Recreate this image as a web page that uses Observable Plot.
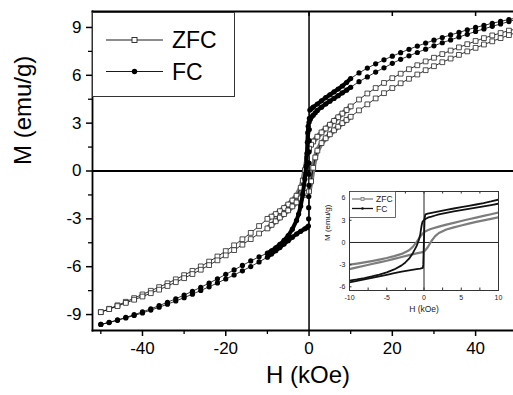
<!DOCTYPE html>
<html><head><meta charset="utf-8">
<script src="https://cdn.jsdelivr.net/npm/d3@7"></script>
<script src="https://cdn.jsdelivr.net/npm/@observablehq/plot@0.6"></script>
<style>
html,body{margin:0;padding:0;background:#fff;overflow:hidden;}
#wrap{position:relative;width:513px;height:395px;overflow:hidden;font-family:"Liberation Sans",Arial,sans-serif;background:#fff;}
#wrap svg{position:absolute;overflow:hidden;}
</style></head><body><div id="wrap"></div>
<script>
// ---------------- data ----------------
// ZFC, field swept from +50 to -50 kOe
const zfcDownH = [50,48,46,44,42,40,38,36,34,32,30,28,26,24,22,20,18,16,14,12,
  10,9,8,7,6,5,4,3,2,1,0.5,0,-0.5,-1,-1.5,-2,-3,-4,-5,-6,-7,-8,-9,-10,
  -12,-14,-16,-18,-20,-22,-24,-26,-28,-30,-32,-34,-36,-38,-40,-42,-44,-46,-48,-50];
const zfcDownM = [8.92,8.8,8.65,8.5,8.33,8.15,7.95,7.75,7.55,7.33,7.1,6.87,6.63,6.38,6.1,5.82,5.52,5.2,4.86,4.48,
  4.05,3.82,3.6,3.37,3.14,2.9,2.66,2.42,2.15,1.85,1.65,1.4,0.8,0.05,-0.6,-1.05,-1.55,-1.85,-2.1,-2.32,-2.52,-2.7,-2.86,-3.0,
  -3.45,-3.88,-4.28,-4.66,-5.02,-5.36,-5.68,-5.98,-6.26,-6.53,-6.79,-7.04,-7.28,-7.51,-7.74,-7.97,-8.2,-8.42,-8.64,-8.85];
// ZFC, field swept from -50 to +50 kOe
const zfcUpH = [-50,-48,-46,-44,-42,-40,-38,-36,-34,-32,-30,-28,-26,-24,-22,-20,-18,-16,-14,-12,
  -10,-9,-8,-7,-6,-5,-4,-3,-2,-1,-0.5,0,0.5,1,1.5,2,3,4,5,6,7,8,9,10,
  12,14,16,18,20,22,24,26,28,30,32,34,36,38,40,42,44,46,48,50];
const zfcUpM = [-8.85,-8.66,-8.47,-8.27,-8.07,-7.87,-7.66,-7.44,-7.21,-6.97,-6.72,-6.46,-6.19,-5.9,-5.6,-5.29,-4.96,-4.62,-4.27,-3.92,
  -3.6,-3.38,-3.15,-2.92,-2.7,-2.47,-2.22,-1.97,-1.72,-1.48,-1.38,-1.28,-0.65,0.2,0.85,1.28,1.75,2.05,2.3,2.55,2.78,3.0,3.2,3.4,
  3.8,4.18,4.55,4.88,5.2,5.5,5.78,6.05,6.32,6.57,6.82,7.05,7.28,7.5,7.72,7.93,8.13,8.33,8.52,8.7];
// FC, field swept from +50 to -50 kOe
const fcDownH = [50,48,46,44,42,40,38,36,34,32,30,28,26,24,22,20,18,16,14,12,
  10,9,8,7,6,5,4,3,2,1,0.5,0.2,0.08,0.06,0.04,0.02,0,-0.02,-0.04,-0.06,-0.08,-0.1,-0.15,-0.5,
  -1,-2,-3,-4,-5,-6,-7,-8,-9,-10,
  -12,-14,-16,-18,-20,-22,-24,-26,-28,-30,-32,-34,-36,-38,-40,-42,-44,-46,-48,-50];
const fcDownM = [9.6,9.5,9.38,9.26,9.13,9.0,8.85,8.69,8.53,8.37,8.2,8.02,7.83,7.63,7.42,7.2,6.97,6.72,6.45,6.15,
  5.8,5.55,5.33,5.14,4.96,4.78,4.6,4.4,4.2,4.0,3.9,3.82,3.3,2.6,1.9,1.2,0.5,-0.2,-0.9,-1.6,-2.3,-3.0,-3.45,-3.55,
  -3.62,-3.78,-3.95,-4.15,-4.37,-4.58,-4.8,-5.0,-5.2,-5.4,
  -5.7,-5.99,-6.26,-6.52,-6.77,-7.02,-7.26,-7.49,-7.72,-7.94,-8.15,-8.35,-8.54,-8.72,-8.9,-9.06,-9.21,-9.36,-9.5,-9.62];
// FC, field swept from -50 to +50 kOe
const fcUpH = [-50,-48,-46,-44,-42,-40,-38,-36,-34,-32,-30,-28,-26,-24,-22,-20,-18,-16,-14,-12,
  -10,-9,-8,-7,-6,-5,-4,-3,-2.5,-2,-1.5,-1,-0.7,-0.5,-0.4,-0.3,-0.2,0,0.3,0.6,1,1.5,
  2,3,4,5,6,7,8,9,10,
  12,14,16,18,20,22,24,26,28,30,32,34,36,38,40,42,44,46,48,50];
const fcUpM = [-9.62,-9.49,-9.34,-9.18,-9.01,-8.83,-8.64,-8.44,-8.23,-8.01,-7.78,-7.54,-7.29,-7.03,-6.76,-6.48,-6.2,-5.92,-5.64,-5.38,
  -5.15,-5.0,-4.82,-4.6,-4.35,-4.05,-3.65,-3.1,-2.7,-2.2,-1.45,-0.5,0.3,1.1,1.8,2.4,2.8,3.05,3.25,3.4,3.5,3.65,
  3.8,4.0,4.2,4.38,4.55,4.72,4.9,5.07,5.25,
  5.6,5.9,6.2,6.47,6.75,7.0,7.22,7.43,7.64,7.85,8.04,8.22,8.4,8.57,8.75,8.91,9.07,9.22,9.37,9.52];

const seriesNames = ["ZFC", "FC"];
const mainXTicks = [-40, -20, 0, 20, 40];
const mainXMinor = [-50, -30, -10, 10, 30, 50];
const mainYTicks = [-9, -6, -3, 0, 3, 6, 9];
const mainYMinor = [-7.5, -4.5, -1.5, 1.5, 4.5, 7.5];
const insetXTicks = [-10, -5, 0, 5, 10];
const insetXMinor = [-7.5, -2.5, 2.5, 7.5];
const insetYTicks = [-6, -3, 0, 3, 6];
const xTitle = "H (kOe)";
const yTitle = "M (emu/g)";

// ---------------- build tables ----------------
const toRows = (H, M, branch) => H.map((h, i) => ({H: h, M: M[i], branch}));
const zfcDown = toRows(zfcDownH, zfcDownM, "ZFC down");
const zfcUp = toRows(zfcUpH, zfcUpM, "ZFC up");
const fcDown = toRows(fcDownH, fcDownM, "FC down");
const fcUp = toRows(fcUpH, fcUpM, "FC up");
const zfcAll = zfcDown.concat(zfcUp);
const fcAll = fcDown.concat(fcUp);
const dense = rows => rows.filter(d => Math.abs(d.H) <= 10);
// the jump of the FC down-sweep at H = 0 is drawn as separate dots, not as a band
const bandY = d => (d.branch === "FC down" && Math.abs(d.H) < 0.15) ? NaN : d.M;

const FONT = '"Liberation Sans", Arial, Helvetica, sans-serif';
const fmt = d => String(d);
const wrap = document.getElementById("wrap");

// ---------------- main chart ----------------
const main = Plot.plot({
  width: 513, height: 395,
  marginLeft: 92, marginRight: 0, marginTop: 11, marginBottom: 65,
  x: {domain: [-52, 49.1]},
  y: {domain: [-10, 10]},
  style: {fontFamily: FONT, background: "transparent", color: "#000", overflow: "hidden"},
  marks: [
    Plot.ruleY([0], {stroke: "#000", strokeWidth: 1.8}),
    Plot.ruleX([0], {stroke: "#000", strokeWidth: 1.5}),
    // ZFC
    Plot.line(dense(zfcDown), {x: "H", y: "M", stroke: "#7a7a7a", strokeWidth: 5, clip: true}),
    Plot.line(dense(zfcUp), {x: "H", y: "M", stroke: "#7a7a7a", strokeWidth: 5, clip: true}),
    Plot.line(zfcAll, {x: "H", y: "M", z: "branch", stroke: "#000", strokeWidth: 0.8, clip: true}),
    Plot.dot(zfcAll, {x: "H", y: "M", symbol: "square", r: 2.7, fill: "#fff", stroke: "#222", strokeWidth: 0.8, clip: true}),
    // FC
    Plot.line(dense(fcDown), {x: "H", y: bandY, stroke: "#000", strokeWidth: 4, clip: true}),
    Plot.line(dense(fcUp), {x: "H", y: bandY, stroke: "#000", strokeWidth: 4, clip: true}),
    Plot.line(fcAll, {x: "H", y: "M", z: "branch", stroke: "#000", strokeWidth: 0.8, clip: true}),
    Plot.dot(fcAll, {x: "H", y: "M", r: 2.6, fill: "#000", clip: true}),
    // frame
    Plot.frame({anchor: "left", strokeWidth: 1.8}),
    Plot.frame({anchor: "top", strokeWidth: 1.8}),
    Plot.frame({anchor: "bottom", strokeWidth: 1.8}),
    // axes
    Plot.axisX({ticks: mainXTicks, tickSize: 6, tickPadding: 5, fontSize: 17, tickFormat: fmt, strokeWidth: 1.5, label: null}),
    Plot.axisX({ticks: mainXMinor, tickSize: 4, tickFormat: () => "", strokeWidth: 1.3, label: null}),
    Plot.ruleX(mainXTicks, {x: d => d, y1: 10, y2: 10, insetBottom: -5, strokeWidth: 1.5}),
    Plot.axisY({ticks: mainYTicks, tickSize: 6, tickPadding: 5, fontSize: 17, tickFormat: fmt, strokeWidth: 1.5, label: null}),
    Plot.axisY({ticks: mainYMinor, tickSize: 4, tickFormat: () => "", strokeWidth: 1.3, label: null}),
    // titles
    Plot.text([xTitle], {text: d => d, frameAnchor: "bottom", dy: 52, dx: 5, fontSize: 24}),
    Plot.text([yTitle], {text: d => d, frameAnchor: "left", dx: -69, dy: -6, rotate: -90, fontSize: 24})
  ]
});
main.style.left = "0px"; main.style.top = "0px";
wrap.appendChild(main);

// ---------------- main legend ----------------
const leg = d3.create("svg").attr("width", 145).attr("height", 87)
  .style("left", "92px").style("top", "12px");
leg.append("rect").attr("x", 0.5).attr("y", 0.5).attr("width", 142).attr("height", 84)
  .attr("fill", "#fff").attr("stroke", "#333").attr("stroke-width", 1);
[28, 59.5].forEach((yy, i) => {
  const g = leg.append("g");
  g.append("line").attr("x1", 14).attr("x2", 71).attr("y1", yy).attr("y2", yy).attr("stroke", "#000").attr("stroke-width", 0.9);
  if (i === 0) g.append("rect").attr("x", 40).attr("y", yy - 2.5).attr("width", 5).attr("height", 5).attr("fill", "#fff").attr("stroke", "#222").attr("stroke-width", 0.9);
  else g.append("circle").attr("cx", 42.5).attr("cy", yy).attr("r", 2.7).attr("fill", "#000");
  g.append("text").attr("x", 80).attr("y", yy).attr("dy", "0.36em").attr("font-size", 23)
    .attr("font-family", FONT).attr("fill", "#000").text(seriesNames[i]);
});
wrap.appendChild(leg.node());

// ---------------- inset ----------------
const inset = Plot.plot({
  width: 200, height: 140,
  marginLeft: 34, marginRight: 17, marginTop: 11, marginBottom: 30,
  x: {domain: [-10, 10]},
  y: {domain: [-6.5, 6.9]},
  style: {fontFamily: FONT, background: "transparent", color: "#222", overflow: "hidden"},
  marks: [
    Plot.ruleY([0], {stroke: "#222", strokeWidth: 1}),
    Plot.ruleX([0], {stroke: "#222", strokeWidth: 1}),
    Plot.line(zfcAll, {x: "H", y: "M", z: "branch", stroke: "#7d7d7d", strokeWidth: 2.2, clip: true}),
    Plot.line(fcAll, {x: "H", y: "M", z: "branch", stroke: "#111", strokeWidth: 1.8, clip: true}),
    Plot.frame({stroke: "#333", strokeWidth: 1}),
    Plot.axisX({ticks: insetXTicks, tickSize: 0, tickPadding: 5, fontSize: 7, tickFormat: fmt, label: null}),
    Plot.ruleX(insetXTicks.concat(insetXMinor), {x: d => d, y1: -6.5, y2: -6.5, insetTop: -2.5, stroke: "#333"}),
    Plot.ruleX(insetXTicks.concat(insetXMinor), {x: d => d, y1: 6.9, y2: 6.9, insetBottom: -2.5, stroke: "#333"}),
    Plot.axisY({ticks: insetYTicks, tickSize: 0, tickPadding: 4, fontSize: 7, tickFormat: fmt, label: null}),
    Plot.ruleY(insetYTicks, {y: d => d, x1: -10, x2: -10, insetRight: -2.5, stroke: "#333"}),
    Plot.text([xTitle], {text: d => d, frameAnchor: "bottom", dy: 21, fontSize: 8.5}),
    Plot.text([yTitle], {text: d => d, frameAnchor: "left", dx: -22, rotate: -90, fontSize: 8})
  ]
});
inset.style.left = "315px"; inset.style.top = "180px";
wrap.appendChild(inset);

// ---------------- inset legend ----------------
const leg2 = d3.create("svg").attr("width", 48).attr("height", 28)
  .style("left", "349px").style("top", "191px");
leg2.append("rect").attr("x", 0.5).attr("y", 0.5).attr("width", 46).attr("height", 26)
  .attr("fill", "#fff").attr("stroke", "#444").attr("stroke-width", 0.8);
[8, 17.5].forEach((yy, i) => {
  const col = i === 0 ? "#7d7d7d" : "#111";
  leg2.append("line").attr("x1", 3).attr("x2", 24).attr("y1", yy).attr("y2", yy).attr("stroke", col).attr("stroke-width", 1.3);
  if (i === 0) leg2.append("rect").attr("x", 12).attr("y", yy - 1.5).attr("width", 3).attr("height", 3).attr("fill", "#ddd").attr("stroke", col).attr("stroke-width", 0.8);
  else leg2.append("circle").attr("cx", 13.5).attr("cy", yy).attr("r", 1.3).attr("fill", col);
  leg2.append("text").attr("x", 27).attr("y", yy).attr("dy", "0.36em").attr("font-size", 8.5)
    .attr("font-family", FONT).attr("fill", "#222").text(seriesNames[i]);
});
wrap.appendChild(leg2.node());
</script></body></html>
